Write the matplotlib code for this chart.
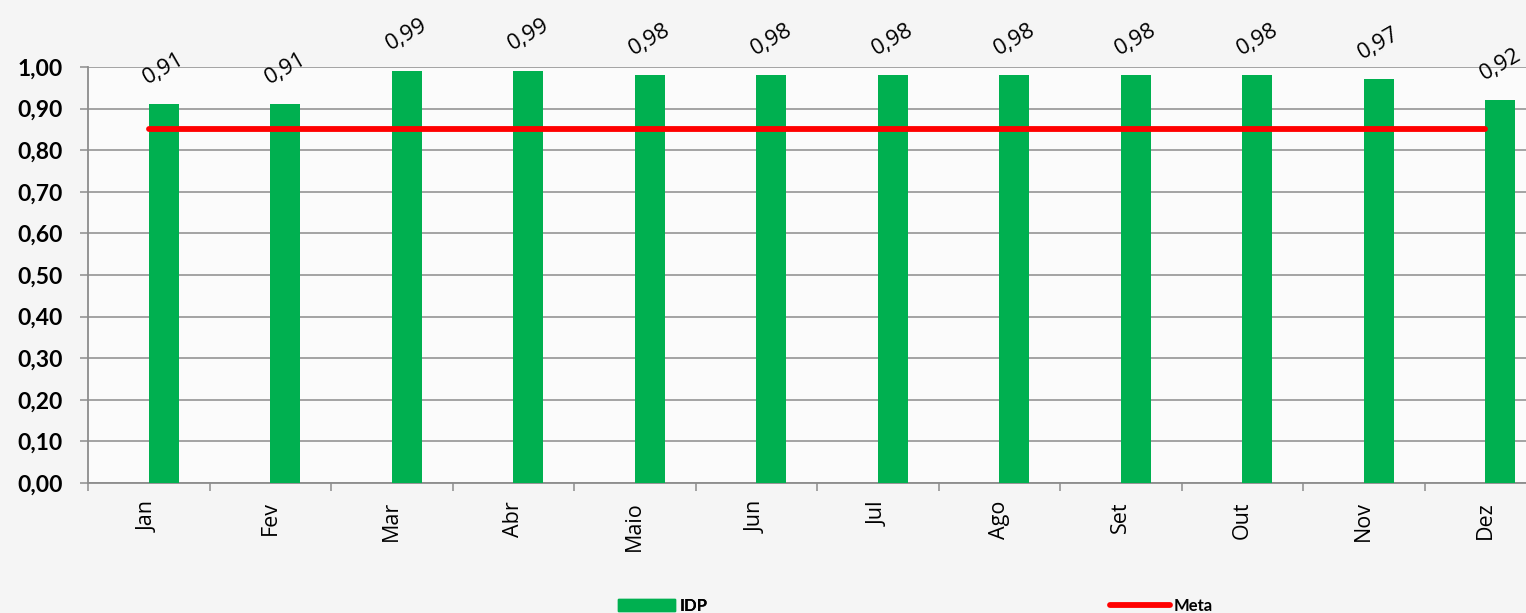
import matplotlib
matplotlib.use("Agg")
import matplotlib.pyplot as plt
from matplotlib.patches import Patch
from matplotlib.lines import Line2D

months = ["Jan", "Fev", "Mar", "Abr", "Maio", "Jun", "Jul", "Ago", "Set", "Out", "Nov", "Dez"]
idp = [0.91, 0.91, 0.99, 0.99, 0.98, 0.98, 0.98, 0.98, 0.98, 0.98, 0.97, 0.92]
meta = [0.85] * 12
yticks = [0.0, 0.1, 0.2, 0.3, 0.4, 0.5, 0.6, 0.7, 0.8, 0.9, 1.0]
ytick_labels = ["0,00", "0,10", "0,20", "0,30", "0,40", "0,50", "0,60", "0,70", "0,80", "0,90", "1,00"]

GREEN = "#00b050"
RED = "#ff0000"
GRID = "#8c8c8c"

W, H = 1526, 613
fig = plt.figure(figsize=(W / 100, H / 100), dpi=100)
fig.patch.set_facecolor("#f5f5f5")
ax = fig.add_axes([88 / W, (H - 483) / H, 1458 / W, 416 / H])
ax.set_facecolor("#fbfbfb")

x = list(range(len(months)))
ax.bar(x, idp, width=0.247, align="edge", color=GREEN, zorder=3, label="IDP")
ax.plot(x, meta, color=RED, lw=4.2, solid_capstyle="round", zorder=4, label="Meta")

for xi, v in zip(x, idp):
    ax.annotate(f"{v:.2f}".replace(".", ","), (xi + 0.1235, v), xytext=(0, 26),
                textcoords="offset points", ha="center", va="center",
                rotation=30, fontsize=16, family="Open Sans", color="black",
                annotation_clip=False, zorder=5)

ax.set_xlim(-0.5, 11.5)
ax.set_ylim(0, 1.0)
ax.set_yticks(yticks)
ax.set_yticklabels(ytick_labels, fontsize=16.5, fontweight="bold", family="Lato")
ax.tick_params(axis="y", length=6, width=1.1, color=GRID, pad=12)

# category boundaries as major ticks, labels at centers as minor ticks
ax.set_xticks([i - 0.5 for i in range(len(months) + 1)])
ax.set_xticklabels([])
ax.tick_params(axis="x", which="major", length=6, width=1.1, color=GRID, direction="out")
ax.set_xticks(x, minor=True)
ax.set_xticklabels(months, minor=True, rotation=90, fontsize=15.5, family="Open Sans")
ax.tick_params(axis="x", which="minor", length=0, pad=13)

ax.grid(axis="y", color=GRID, lw=1.1, zorder=0)
for s in ["top", "right"]:
    ax.spines[s].set_visible(False)
for s in ["left", "bottom"]:
    ax.spines[s].set_color(GRID)
    ax.spines[s].set_linewidth(1.3)

leg1 = fig.legend(handles=[Patch(color=GREEN, label="IDP")], loc="center left",
                  bbox_to_anchor=(603 / W, 1 - 606 / H), frameon=False,
                  handlelength=3.4, handleheight=0.7, handletextpad=0.3,
                  prop={"family": "Lato", "weight": "bold", "size": 12})
leg2 = fig.legend(handles=[Line2D([], [], color=RED, lw=4.2, solid_capstyle="round", label="Meta")],
                  loc="center left", bbox_to_anchor=(1095 / W, 1 - 606 / H), frameon=False,
                  handlelength=3.6, handletextpad=0.2,
                  prop={"family": "Lato", "weight": "bold", "size": 12})
fig.add_artist(leg1)

fig.savefig("out.png", dpi=100, facecolor=fig.get_facecolor())
